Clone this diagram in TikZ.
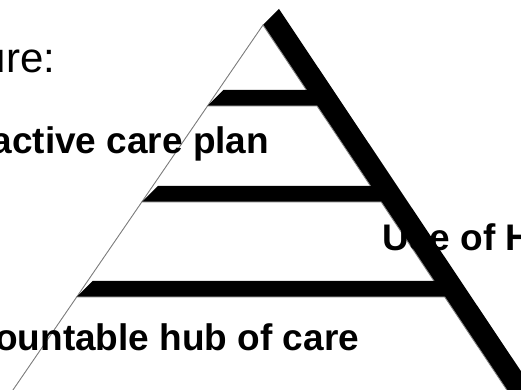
\documentclass[tikz,border=0pt]{standalone}
\usepackage{fontspec}
\setmainfont{Liberation Sans}
\usetikzlibrary{calc}
\definecolor{linegray}{RGB}{128,128,128}
\begin{document}
\begin{tikzpicture}[x=1pt,y=1pt,
  extr/.style={fill=black},
  face/.style={fill=white,draw=linegray,line width=0.9pt,line join=miter},
  lbl/.style={inner sep=0pt,font=\bfseries\fontsize{37}{42}\selectfont},
  lblreg/.style={inner sep=0pt,font=\fontsize{42}{47}\selectfont}]
\useasboundingbox (0,0) rectangle (521,390);
\clip (0,0) rectangle (521,390);
\coordinate (A) at (263,365);
\coordinate (B1L) at (207.5,284);
\coordinate (B1R) at (317.1,284);
\coordinate (B2L) at (141.8,188);
\coordinate (B2R) at (381.2,188);
\coordinate (B3L) at (76.7,93);
\coordinate (B3R) at (444.7,93);
\coordinate (B4L) at (-7.6,-30);
\coordinate (B4R) at (526.9,-30);
% section 1 (top triangle)
\fill[extr] (B1L) -- (A) -- ($(A)+(16,16)$) -- ($(B1R)+(16,16)$) -- (B1R) -- cycle;
\draw[face] (A) -- (B1R) -- (B1L) -- cycle;
% section 2
\fill[extr] (B2L) -- (B1L) -- ($(B1L)+(16,16)$) -- ($(B1R)+(16,16)$) -- ($(B2R)+(16,16)$) -- (B2R) -- cycle;
\draw[face] (B1L) -- (B1R) -- (B2R) -- (B2L) -- cycle;
% section 3
\fill[extr] (B3L) -- (B2L) -- ($(B2L)+(16,16)$) -- ($(B2R)+(16,16)$) -- ($(B3R)+(16,16)$) -- (B3R) -- cycle;
\draw[face] (B2L) -- (B2R) -- (B3R) -- (B3L) -- cycle;
% section 4
\fill[extr] (B4L) -- (B3L) -- ($(B3L)+(16,16)$) -- ($(B3R)+(16,16)$) -- ($(B4R)+(16,16)$) -- (B4R) -- cycle;
\draw[face] (B3L) -- (B3R) -- (B4R) -- (B4L) -- cycle;
% texts
\node[lblreg,anchor=base east] (t1) at (55.5,317) {ure:};
\node[lbl,anchor=base east] (t2) at (269.4,236) {active care plan};
\node[lbl,anchor=base west] (t3) at (382.4,139.5) {Use of H};
\node[lbl,anchor=base east] (t4) at (359.3,39) {ountable hub of care};
\end{tikzpicture}
\end{document}
